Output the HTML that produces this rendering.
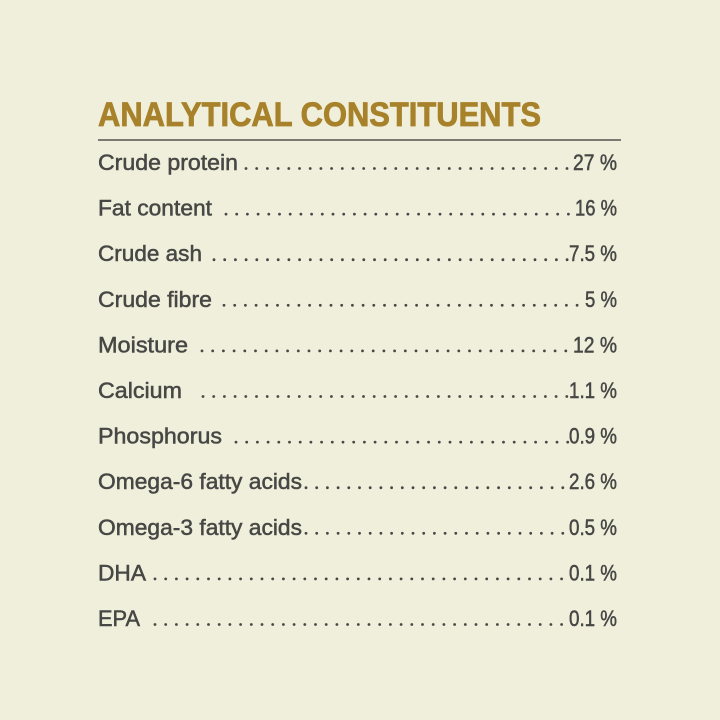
<!DOCTYPE html>
<html><head><meta charset="utf-8"><style>
html,body{margin:0;padding:0;background:#f0efdb;}
svg{display:block}
</style></head><body>
<svg id="s" width="720" height="720" xmlns="http://www.w3.org/2000/svg">
<rect width="720" height="720" fill="#f0efdb"/>
<text x="98" y="126" font-family="Liberation Sans, sans-serif" font-weight="bold" font-size="34" fill="#a8822a" stroke="#a8822a" stroke-width="0.8" textLength="443" lengthAdjust="spacingAndGlyphs">ANALYTICAL CONSTITUENTS</text>
<rect x="98" y="139" width="523" height="2" fill="#7b7a72"/>
<g id="rows" font-family="Liberation Sans, sans-serif" font-size="22" fill="#474745" stroke="#474745" stroke-width="0.5"></g>
</svg>
<script>
var rows=[
["Crude protein",140,246,"27 %",44],
["Fat content",114,226,"16 %",42],
["Crude ash",104,214,"7.5 %",48],
["Crude fibre",114,224,"5 %",32],
["Moisture",90,202,"12 %",44],
["Calcium",84,203,"1.1 %",48],
["Phosphorus",124,236,"0.9 %",48],
["Omega-6 fatty acids",204,306,"2.6 %",48],
["Omega-3 fatty acids",204,306,"0.5 %",48],
["DHA",48,155,"0.1 %",48],
["EPA",42,155,"0.1 %",48]];
var g=document.getElementById('rows'),h="";
rows.forEach(function(r,i){
 var cy=162+i*45.6,by=cy+8;
 h+='<text x="98" y="'+by+'" textLength="'+r[1]+'" lengthAdjust="spacingAndGlyphs">'+r[0]+'</text>';
 h+='<text x="617" y="'+by+'" text-anchor="end" textLength="'+r[4]+'" lengthAdjust="spacingAndGlyphs">'+r[3]+'</text>';
 var end=617-r[4]-1;
 for(var x=r[2];x<end;x+=10.7){h+='<circle cx="'+x.toFixed(1)+'" cy="'+(by-1.5)+'" r="1.4" stroke="none"/>';}
});
g.innerHTML=h;
</script>
</body></html>
